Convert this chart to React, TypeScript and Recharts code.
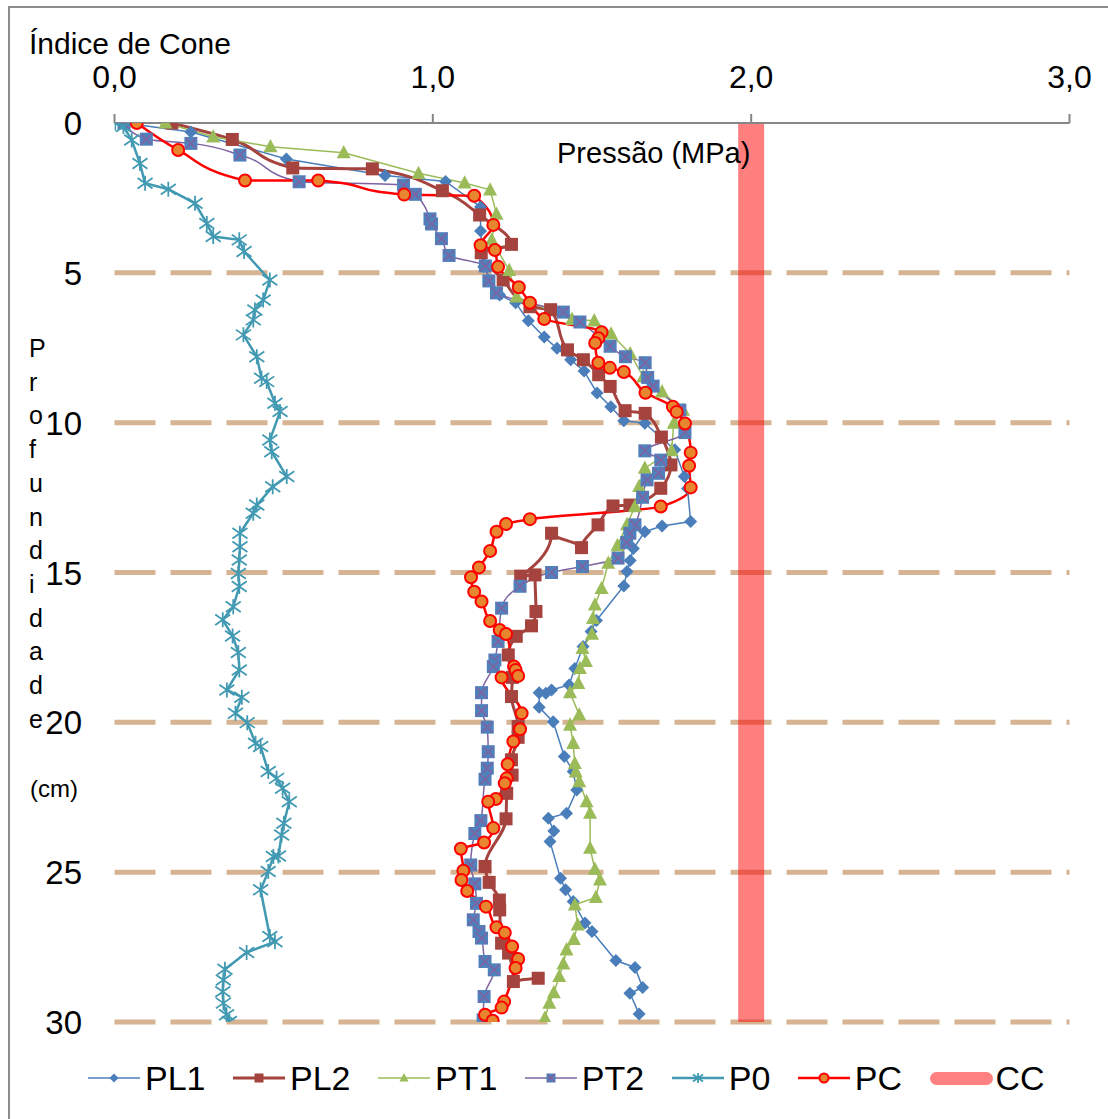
import React from 'react';
import { ComposedChart, Line, XAxis, YAxis, ReferenceLine } from 'recharts';

// [pressão (MPa), profundidade (cm)]
type Pt = [number, number];

const PL1: Pt[] = [
  [0.03, 0], [0.24, 0.3], [0.54, 1.2], [0.85, 1.75], [1.04, 1.95], [1.15, 2.8], [1.15, 3.6],
  [1.16, 4.8], [1.21, 5.74], [1.26, 6.0], [1.3, 6.6], [1.35, 7.14], [1.39, 7.52], [1.433, 7.9],
  [1.475, 8.28], [1.516, 9.01], [1.559, 9.47], [1.6, 9.94], [1.666, 10.02], [1.76, 10.9],
  [1.79, 11.8], [1.8, 12.2], [1.81, 13.3], [1.72, 13.45], [1.666, 13.64], [1.63, 14.2],
  [1.62, 14.6], [1.61, 14.97], [1.6, 15.45], [1.514, 16.6], [1.497, 16.97], [1.472, 17.47],
  [1.446, 18.2], [1.428, 18.75], [1.373, 18.92], [1.355, 19.03], [1.334, 19.01], [1.334, 19.5],
  [1.378, 19.98], [1.413, 21.14], [1.441, 21.64], [1.452, 22.26], [1.42, 23.03], [1.363, 23.2],
  [1.38, 23.63], [1.368, 23.98], [1.401, 25.2], [1.417, 25.59], [1.441, 25.98], [1.478, 26.7],
  [1.5, 26.98], [1.575, 27.95], [1.635, 28.18], [1.659, 28.85], [1.619, 29.04], [1.648, 29.73],
];

const PL2: Pt[] = [
  [0.18, 0], [0.37, 0.55], [0.56, 1.5], [0.81, 1.53], [1.03, 2.26], [1.147, 3.07], [1.247, 4.05],
  [1.152, 4.33], [1.221, 5.24], [1.305, 6.13], [1.37, 6.23], [1.423, 7.57], [1.473, 7.9],
  [1.521, 8.4], [1.557, 8.79], [1.604, 9.6], [1.667, 9.69], [1.718, 10.48], [1.748, 11.41],
  [1.716, 12.19], [1.619, 12.75], [1.566, 12.78], [1.519, 13.41], [1.467, 14.17], [1.373, 13.69],
  [1.276, 15.12], [1.321, 15.08], [1.324, 16.3], [1.31, 16.78], [1.262, 17.13], [1.237, 17.75],
  [1.25, 18.5], [1.247, 19.14], [1.268, 20.14], [1.268, 20.5], [1.247, 21.25], [1.249, 21.76],
  [1.232, 22.37], [1.23, 23.22], [1.164, 24.81], [1.177, 25.34], [1.209, 25.93], [1.21, 26.26],
  [1.216, 27.37], [1.238, 27.7], [1.253, 28.65], [1.331, 28.54],
];

const PT1: Pt[] = [
  [0.16, 0], [0.31, 0.46], [0.49, 0.79], [0.72, 0.99], [0.955, 1.68], [1.1, 2.0], [1.18, 2.23],
  [1.2, 3.04], [1.185, 3.9], [1.24, 4.92], [1.263, 5.8], [1.437, 6.55], [1.507, 6.6], [1.56, 7.04],
  [1.62, 7.7], [1.661, 8.47], [1.72, 8.97], [1.786, 9.58], [1.757, 10.02], [1.75, 10.93],
  [1.666, 11.52], [1.648, 12.13], [1.635, 12.8], [1.61, 13.4], [1.58, 14.1], [1.551, 14.69],
  [1.53, 15.53], [1.509, 16.08], [1.503, 16.53], [1.5, 17.06], [1.47, 17.53], [1.481, 17.97],
  [1.462, 18.2], [1.457, 18.7], [1.431, 19.01], [1.46, 19.75], [1.431, 20.09], [1.441, 20.7],
  [1.446, 21.37], [1.449, 21.65], [1.46, 21.98], [1.483, 22.65], [1.494, 23.03], [1.494, 24.2],
  [1.509, 24.9], [1.525, 25.26], [1.512, 25.84], [1.446, 26.09], [1.455, 26.76], [1.443, 27.24],
  [1.42, 27.59], [1.41, 28.06], [1.397, 28.48], [1.38, 29.02], [1.366, 29.37], [1.352, 29.87],
];

const PT2: Pt[] = [
  [0.03, 0], [0.1, 0.54], [0.24, 0.68], [0.394, 1.07], [0.58, 1.96], [0.908, 2.07], [0.945, 2.38],
  [0.991, 3.2], [0.996, 3.37], [1.027, 3.86], [1.051, 4.42], [1.165, 4.77], [1.176, 5.27],
  [1.2, 5.67], [1.41, 6.31], [1.462, 6.64], [1.557, 7.45], [1.605, 7.8], [1.667, 8.0],
  [1.675, 8.49], [1.692, 8.78], [1.776, 9.58], [1.792, 10.33], [1.666, 10.94], [1.716, 11.25],
  [1.709, 11.69], [1.673, 11.91], [1.659, 12.49], [1.635, 13.41], [1.619, 13.69], [1.609, 14.0],
  [1.582, 14.52], [1.47, 14.8], [1.373, 15.0], [1.274, 15.46], [1.216, 16.19], [1.205, 17.3],
  [1.195, 17.92], [1.19, 18.14], [1.153, 19.01], [1.153, 19.61], [1.171, 20.16], [1.174, 20.98],
  [1.171, 21.53], [1.164, 21.9], [1.151, 23.28], [1.132, 23.71], [1.119, 24.76], [1.132, 25.39],
  [1.137, 26.04], [1.127, 26.59], [1.145, 26.98], [1.153, 27.2], [1.164, 27.98], [1.193, 28.26],
  [1.161, 29.15], [1.158, 29.93],
];

const P0: Pt[] = [
  [0.002, 0], [0.028, 0.12], [0.054, 0.57], [0.08, 1.35], [0.096, 2.01], [0.169, 2.21],
  [0.253, 2.68], [0.29, 3.35], [0.31, 3.79], [0.392, 3.9], [0.407, 4.29], [0.488, 5.24],
  [0.467, 5.91], [0.441, 6.24], [0.436, 6.57], [0.405, 7.07], [0.447, 7.8], [0.462, 8.52],
  [0.478, 8.63], [0.504, 9.35], [0.52, 9.63], [0.488, 10.58], [0.494, 10.97], [0.541, 11.8],
  [0.497, 12.14], [0.447, 12.75], [0.436, 13.02], [0.394, 13.69], [0.394, 14.14], [0.392, 14.58],
  [0.389, 15.03], [0.392, 15.47], [0.373, 16.14], [0.34, 16.58], [0.371, 17.12], [0.389, 17.67],
  [0.392, 18.25], [0.353, 18.92], [0.4, 19.16], [0.38, 19.7], [0.417, 20.01], [0.443, 20.7],
  [0.459, 20.81], [0.483, 21.64], [0.509, 21.87], [0.528, 22.2], [0.549, 22.65], [0.532, 23.37],
  [0.525, 23.76], [0.515, 24.46], [0.499, 24.48], [0.483, 24.98], [0.459, 25.59], [0.488, 27.15],
  [0.504, 27.32], [0.415, 27.68], [0.347, 28.24], [0.342, 28.6], [0.34, 28.99], [0.342, 29.37],
  [0.352, 29.76], [0.361, 29.98],
];

const PC: Pt[] = [
  [0.07, 0], [0.2, 0.9], [0.41, 1.92], [0.64, 1.92], [0.91, 2.39], [1.13, 2.43], [1.19, 3.4],
  [1.15, 4.08], [1.195, 4.24], [1.205, 4.8], [1.27, 5.48], [1.305, 6.0], [1.35, 6.54], [1.53, 6.98],
  [1.52, 7.18], [1.51, 7.34], [1.52, 8.0], [1.556, 8.17], [1.6, 8.31], [1.668, 9.0], [1.754, 9.47],
  [1.766, 9.64], [1.792, 10.03], [1.81, 11.0], [1.805, 11.44], [1.81, 12.16], [1.716, 12.8],
  [1.305, 13.22], [1.23, 13.38], [1.2, 13.64], [1.18, 14.28], [1.145, 14.83], [1.12, 15.16],
  [1.13, 15.64], [1.153, 15.97], [1.18, 16.62], [1.21, 16.92], [1.23, 17.05], [1.255, 18.14],
  [1.26, 18.25], [1.268, 18.45], [1.216, 18.5], [1.279, 19.7], [1.274, 20.23], [1.253, 20.64],
  [1.235, 21.4], [1.232, 21.87], [1.226, 22.03], [1.198, 22.56], [1.174, 22.65], [1.19, 23.53],
  [1.161, 24.01], [1.088, 24.22], [1.096, 24.95], [1.09, 25.26], [1.108, 25.63], [1.167, 26.15],
  [1.2, 26.84], [1.226, 27.02], [1.249, 27.48], [1.268, 27.9], [1.26, 28.2], [1.224, 29.32],
  [1.216, 29.52], [1.164, 29.76], [1.188, 29.96],
];

// limite CC (MPa), drawn as a thick vertical band
const CC: Pt[] = [[2.0, 0], [2.0, 30]];

const xTicks = [0, 1, 2, 3];
const yTicks = [0, 5, 10, 15, 20, 25, 30];
const gridDepths = [5, 10, 15, 20, 25, 30];
const depthLetters = 'Profundidade'.split('');

const FONT = '"Liberation Sans", Arial, sans-serif';
const C = {
  pl1: '#4A7EBB',
  pl2: '#A5433F',
  pt1: '#9BBB59',
  pt2: '#7F63A1',
  pt2Fill: '#4F81BD',
  p0: '#4199B2',
  pc: '#FF0000',
  pcFill: '#E8862F',
  cc: 'rgba(255,0,0,0.5)',
  grid: '#D5B393',
  axis: '#868686',
};

const rows = (pts: Pt[]) => pts.map(([p, d]) => ({ p, d }));

type Mk = 'diamond' | 'square' | 'triangle' | 'xsquare' | 'star' | 'circle';

function Marker({ kind, cx, cy, s }: { kind: Mk; cx: number; cy: number; s: number }) {
  switch (kind) {
    case 'diamond':
      return <path d={`M${cx},${cy - s}L${cx + s},${cy}L${cx},${cy + s}L${cx - s},${cy}Z`} fill={C.pl1} />;
    case 'square':
      return <rect x={cx - s} y={cy - s} width={2 * s} height={2 * s} fill={C.pl2} />;
    case 'triangle':
      return <path d={`M${cx},${cy - s * 1.1}L${cx + s},${cy + s * 0.8}L${cx - s},${cy + s * 0.8}Z`} fill={C.pt1} />;
    case 'xsquare':
      return (
        <g>
          <rect x={cx - s} y={cy - s} width={2 * s} height={2 * s} fill={C.pt2Fill} />
          <path d={`M${cx - s * 0.8},${cy - s * 0.8}L${cx + s * 0.8},${cy + s * 0.8}M${cx + s * 0.8},${cy - s * 0.8}L${cx - s * 0.8},${cy + s * 0.8}`} stroke={C.pt2} strokeWidth={1.6} />
        </g>
      );
    case 'star':
      return (
        <path
          d={`M${cx - s},${cy - s * 0.7}L${cx + s},${cy + s * 0.7}M${cx + s},${cy - s * 0.7}L${cx - s},${cy + s * 0.7}M${cx},${cy - s}L${cx},${cy + s}`}
          stroke={C.p0}
          strokeWidth={1.8}
          fill="none"
        />
      );
    default:
      return <circle cx={cx} cy={cy} r={s} fill={C.pcFill} stroke={C.pc} strokeWidth={2} />;
  }
}

const dotOf = (kind: Mk, s: number) => (props: any) => {
  const { cx, cy, index } = props;
  if (cx == null || cy == null) return <g key={`${kind}-${index}`} />;
  return (
    <g key={`${kind}-${index}`}>
      <Marker kind={kind} cx={cx} cy={cy} s={s} />
    </g>
  );
};

const series = [
  { name: 'PL1', pts: PL1, color: C.pl1, width: 1.5, kind: 'diamond' as Mk, size: 6.5, curve: 'linear' },
  { name: 'PL2', pts: PL2, color: C.pl2, width: 3, kind: 'square' as Mk, size: 6.5, curve: 'monotone' },
  { name: 'PT1', pts: PT1, color: C.pt1, width: 1.5, kind: 'triangle' as Mk, size: 7, curve: 'linear' },
  { name: 'PT2', pts: PT2, color: C.pt2, width: 1.5, kind: 'xsquare' as Mk, size: 6.5, curve: 'monotone' },
  { name: 'P0', pts: P0, color: C.p0, width: 2.5, kind: 'star' as Mk, size: 7.5, curve: 'linear' },
  { name: 'PC', pts: PC, color: C.pc, width: 2.5, kind: 'circle' as Mk, size: 6, curve: 'monotone' },
];

const XTick = (props: any) => (
  <text x={props.x} y={88} textAnchor="middle" fontSize={32} fontFamily={FONT} fill="#000">
    {Number(props.payload.value).toFixed(1).replace('.', ',')}
  </text>
);

const YTick = (props: any) => (
  <text x={82} y={props.y + 12} textAnchor="end" fontSize={33} fontFamily={FONT} fill="#000">
    {props.payload.value}
  </text>
);

function LegendIcon({ kind, color, width }: { kind: Mk; color: string; width: number }) {
  return (
    <svg width={52} height={24} style={{ display: 'block' }}>
      <line x1={0} y1={12} x2={52} y2={12} stroke={color} strokeWidth={width} />
      <Marker kind={kind} cx={26} cy={12} s={kind === 'star' ? 5 : 4.5} />
    </svg>
  );
}

function Legend() {
  return (
    <div
      style={{
        position: 'absolute',
        left: 88,
        top: 1058,
        display: 'flex',
        alignItems: 'center',
        fontFamily: FONT,
        fontSize: 34,
        color: '#000',
        lineHeight: '40px',
      }}
    >
      {series.map((s) => (
        <div key={s.name} style={{ display: 'flex', alignItems: 'center', marginRight: 27.5 }}>
          <LegendIcon kind={s.kind} color={s.color} width={s.width} />
          <span style={{ marginLeft: 5 }}>{s.name}</span>
        </div>
      ))}
      <div style={{ display: 'flex', alignItems: 'center' }}>
        <div style={{ width: 63, height: 13, borderRadius: 7, background: '#FF8080' }} />
        <span style={{ marginLeft: 3 }}>CC</span>
      </div>
    </div>
  );
}

export default function App() {
  return (
    <div style={{ position: 'absolute', left: 0, top: 0, width: 1108, height: 1119, background: '#fff' }}>
      <div
        style={{
          position: 'absolute',
          left: 8,
          top: 6,
          width: 1100,
          height: 1113,
          borderLeft: '2px solid #8C8C8C',
          borderTop: '2px solid #8C8C8C',
          boxSizing: 'border-box',
        }}
      />
      <ComposedChart
        width={1108}
        height={1119}
        layout="vertical"
        margin={{ top: 122, right: 38.5, bottom: 97, left: 113.5 }}
        style={{ position: 'absolute', left: 0, top: 0 }}
      >
        <XAxis
          type="number"
          orientation="top"
          domain={[0, 3]}
          ticks={xTicks}
          height={1}
          tickSize={9}
          axisLine={{ stroke: C.axis, strokeWidth: 2 }}
          tickLine={{ stroke: C.axis, strokeWidth: 2 }}
          tick={XTick}
          allowDataOverflow
        />
        <YAxis
          type="number"
          dataKey="d"
          domain={[0, 30]}
          ticks={yTicks}
          width={1}
          axisLine={false}
          tickLine={false}
          tick={YTick}
          allowDataOverflow
        />
        {gridDepths.map((d) => (
          <ReferenceLine key={d} y={d} stroke={C.grid} strokeWidth={5} strokeDasharray="41 15" />
        ))}
        {series.map((s) => (
          <Line
            key={s.name}
            name={s.name}
            data={rows(s.pts)}
            dataKey="p"
            type={s.curve as any}
            stroke={s.color}
            strokeWidth={s.width}
            dot={dotOf(s.kind, s.size)}
            activeDot={false}
            isAnimationActive={false}
          />
        ))}
        <Line
          name="CC"
          data={rows(CC)}
          dataKey="p"
          type="linear"
          stroke={C.cc}
          strokeWidth={26}
          strokeLinecap="butt"
          dot={false}
          activeDot={false}
          isAnimationActive={false}
        />
      </ComposedChart>
      <svg width={1108} height={1119} style={{ position: 'absolute', left: 0, top: 0, pointerEvents: 'none' }}>
        <g fontFamily={FONT} fill="#000">
          <text x={29} y={54} fontSize={30}>Índice de Cone</text>
          <text x={557} y={163} fontSize={29}>Pressão (MPa)</text>
          {depthLetters.map((ch, i) => (
            <text key={i} x={29} y={357 + i * 33.7} fontSize={25}>
              {ch}
            </text>
          ))}
          <text x={30} y={797} fontSize={24}>(cm)</text>
        </g>
      </svg>
      <Legend />
    </div>
  );
}
